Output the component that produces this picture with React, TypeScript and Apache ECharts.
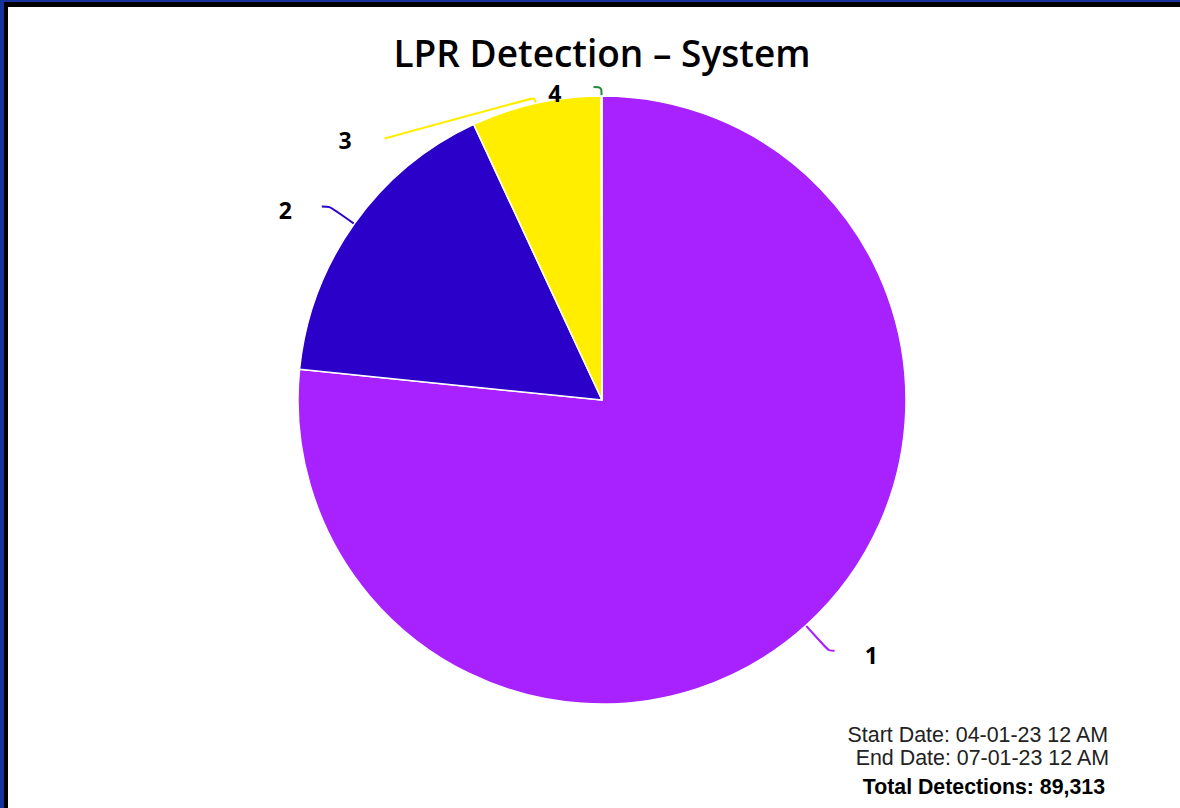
import React, { useEffect, useRef } from "react";
import * as echarts from "echarts";

const categories = ["1", "2", "3", "4"];
const values = [68420, 14700, 6150, 43];
const colors = ["#a722fe", "#2b00c8", "#ffee00", "#228b3c"];
const titleText = "LPR Detection – System";
const startDateText = "Start Date: 04-01-23 12 AM";
const endDateText = "End Date: 07-01-23 12 AM";
const totalLabel = "Total Detections: ";

// label connector styling per slice (lengths and nudges of the label boxes)
const lineLengths = [34, 30, 6, 9];
const lineLengths2 = [6, 8, 150, 8];
const labelDistances = [30, 30, 33, 32];
const labelShiftY = [4, 4, 43, 6];
const lineEndShiftY = [0, 0, 41, 0];

export default function App() {
  const ref = useRef<HTMLDivElement>(null);

  useEffect(() => {
    if (!ref.current) return;
    const chart = echarts.init(ref.current, undefined, { renderer: "svg" });
    const total = values.reduce((a, b) => a + b, 0);
    chart.setOption({
      animation: false,
      graphic: [
        {
          type: "text",
          x: 594,
          y: 45,
          style: {
            text: titleText,
            font: "600 37px 'Open Sans'",
            fill: "#000",
            align: "center",
            verticalAlign: "middle",
            textAlign: "center",
            textVerticalAlign: "middle",
          },
        },
        {
          type: "text",
          x: 1100,
          y: 728,
          style: {
            text: startDateText,
            font: "normal 21.4px 'Liberation Sans'",
            fill: "#222",
            align: "right",
            verticalAlign: "middle",
            textAlign: "right",
            textVerticalAlign: "middle",
          },
        },
        {
          type: "text",
          x: 1101,
          y: 751,
          style: {
            text: endDateText,
            font: "normal 21.4px 'Liberation Sans'",
            fill: "#222",
            align: "right",
            verticalAlign: "middle",
            textAlign: "right",
            textVerticalAlign: "middle",
          },
        },
        {
          type: "text",
          x: 1097,
          y: 780,
          style: {
            text: totalLabel + total.toLocaleString("en-US"),
            font: "bold 21.3px 'Liberation Sans'",
            fill: "#000",
            align: "right",
            verticalAlign: "middle",
            textAlign: "right",
            textVerticalAlign: "middle",
          },
        },
      ],
      series: [
        {
          type: "pie",
          center: [594, 393],
          radius: 304,
          startAngle: 90,
          clockwise: true,
          avoidLabelOverlap: false,
          itemStyle: { borderColor: "#fff", borderWidth: 1.5 },
          label: {
            show: true,
            position: "outside",
            formatter: "{b}",
            color: "#000",
            fontFamily: "Open Sans",
            fontWeight: "bold",
            fontSize: 23,
            lineHeight: 22,
          },
          labelLine: {
            show: true,
            smooth: true,
            lineStyle: { width: 2 },
          },
          labelLayout: (params: any) => {
            const i = params.dataIndex;
            const pts = (params.labelLinePoints || []).map((p: number[]) => [p[0], p[1]]);
            if (pts.length === 3) pts[2][1] += lineEndShiftY[i];
            return { dy: labelShiftY[i], labelLinePoints: pts.length ? pts : undefined };
          },
          emphasis: { disabled: true },
          data: categories.map((c, i) => ({
            name: c,
            value: values[i],
            itemStyle: { color: colors[i] },
            label: { distanceToLabelLine: labelDistances[i] },
            labelLine: { length: lineLengths[i], length2: lineLengths2[i] },
          })),
        },
      ],
    });
    return () => chart.dispose();
  }, []);

  return (
    <div style={{ position: "fixed", left: 0, top: 0, width: 1180, height: 808, background: "#15339a", overflow: "hidden" }}>
      <div style={{ position: "absolute", left: 4, top: 2, width: 1300, height: 900, background: "#000" }} />
      <div style={{ position: "absolute", left: 8, top: 7, width: 1172, height: 801, background: "#fff" }}>
        <div ref={ref} style={{ width: 1172, height: 801 }} />
      </div>
    </div>
  );
}
